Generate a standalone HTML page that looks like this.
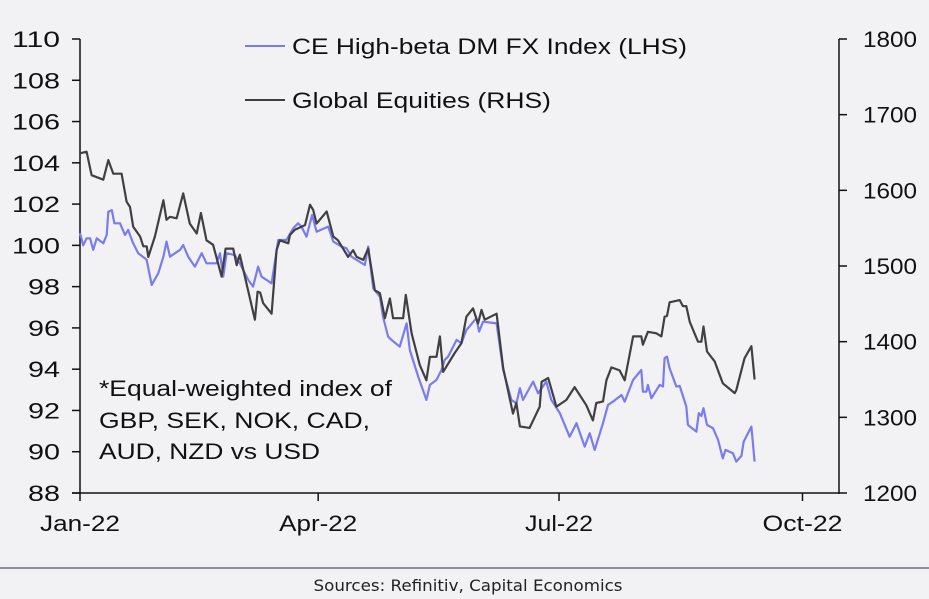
<!DOCTYPE html>
<html><head><meta charset="utf-8"><style>
html,body{margin:0;padding:0;background:#f2f2f5;}
svg{display:block;font-family:"Liberation Sans",Arial,sans-serif;}
</style></head><body>
<svg id="chart" width="929" height="599" viewBox="0 0 929 599" xmlns="http://www.w3.org/2000/svg">
<rect x="0" y="0" width="929" height="599" fill="#f2f2f5"/>
<g id="axes"></g>
<g id="series"></g>
<g>
<line x1="245" y1="46" x2="285" y2="46" stroke="#7b7bf0" stroke-width="2"/>
<text x="292" y="54" font-size="22" fill="#111" textLength="395" lengthAdjust="spacingAndGlyphs">CE High-beta DM FX Index (LHS)</text>
<line x1="245" y1="100" x2="285" y2="100" stroke="#404040" stroke-width="2"/>
<text x="292" y="108" font-size="22" fill="#111" textLength="259" lengthAdjust="spacingAndGlyphs">Global Equities (RHS)</text>
</g>
<g font-size="22" fill="#111">
<text x="99" y="396" textLength="293" lengthAdjust="spacingAndGlyphs">*Equal-weighted index of</text>
<text x="99" y="428" textLength="271" lengthAdjust="spacingAndGlyphs">GBP, SEK, NOK, CAD,</text>
<text x="99" y="459" textLength="221" lengthAdjust="spacingAndGlyphs">AUD, NZD vs USD</text>
</g>
<line x1="0" y1="568" x2="929" y2="568" stroke="#6e6e85" stroke-width="1.5"/>
<text x="468" y="591" font-size="16" fill="#222" text-anchor="middle" textLength="309" lengthAdjust="spacingAndGlyphs" font-family="'DejaVu Sans','Liberation Sans',sans-serif">Sources: Refinitiv, Capital Economics</text>
</svg>
<script>
const leftTicks=[88,90,92,94,96,98,100,102,104,106,108,110];
const rightTicks=[1200,1300,1400,1500,1600,1700,1800];
const xTickDays=[0,90,181,273];
const xTickLabels=["Jan-22","Apr-22","Jul-22","Oct-22"];
const fxDays=[0,1.2,2.5,3.8,5,6.3,8.8,10.1,10.7,12,13,15.1,17,18.2,18.9,20.1,22,24.5,25.2,27.1,29.6,31.5,32.7,34,35.9,37.8,39,40.9,43.4,46,47.8,51.6,52.9,54.1,55.4,58.5,60.4,63.6,65.4,67.3,68.6,72.4,74.9,78,80.6,82.4,83.7,85.6,87.7,89.4,93.8,95.7,98.8,100.7,102.6,107.6,108.9,110.8,113.3,114.5,116.4,117.7,120.8,123.4,124.6,127.8,130.9,132.2,134.7,136.6,137.8,139.1,142.3,144.1,146,149.8,150.8,152.3,157.4,159.9,163,164.9,166.2,167.4,171.2,173.1,176.2,178.1,181.3,185,187.6,190.7,192.6,194.5,197.6,199.5,201.4,204.6,205.8,209,212.1,212.7,214,214.6,215.9,219,220.3,220.9,221.8,222.8,225.3,226.6,229.1,229.7,232.9,233.8,234.8,235.6,236.9,239.2,241.1,242.9,243.9,246.7,248,249.9,250.8,253.7,254.9];
const fxValues=[100.6,100.0,100.34,100.34,99.78,100.34,100.1,100.5,101.63,101.71,101.07,101.07,100.5,100.75,100.5,100.1,99.62,99.38,99.29,98.08,98.65,99.45,100.18,99.45,99.62,99.78,100.02,99.45,98.97,99.62,99.13,99.13,99.62,98.48,99.62,99.53,99.13,98.32,98.0,98.97,98.48,98.16,100.26,100.26,100.83,101.07,100.91,100.42,101.47,100.66,100.91,100.18,99.94,99.86,99.45,99.05,99.94,97.92,97.51,96.55,95.58,95.42,95.09,96.22,94.93,93.64,92.51,93.24,93.48,93.96,94.45,94.61,95.42,95.26,95.9,96.47,95.82,96.3,96.22,93.96,92.51,92.35,93.08,92.51,93.4,92.83,93.4,92.51,91.87,90.73,91.38,90.25,90.9,90.09,91.38,92.27,92.43,92.75,92.43,93.48,93.96,92.91,92.91,93.24,92.59,93.24,93.16,94.53,94.61,94.05,93.16,93.19,92.19,91.3,90.97,91.87,91.73,92.11,91.3,91.14,90.57,89.68,90.09,89.93,89.52,89.8,90.49,91.22,89.52];
const eqDays=[0,2.5,4.4,8.8,10.7,12.6,15.7,17.6,18.9,20.1,22.7,23.9,25.2,25.8,28.3,31.5,32.7,34,36.5,39,41.5,44.1,45.7,47.8,50.3,53.5,55,57.9,59.2,60.4,66.1,67.1,68.1,69.2,72.4,74.3,75.5,78.7,79.3,81.2,85,86.9,88.1,89.4,93.2,95.7,97.5,101.3,103.2,104.5,107,108.9,111.4,113.3,115.2,117.1,118.3,122.1,123.1,125.3,128.4,130.9,132.2,134.7,136,137.2,141.6,144.1,146,148.5,150.4,151.7,152.9,157.4,159.9,163.6,164.9,166.2,169.9,173.7,174.4,176.9,180,183.8,186.9,191.3,193.8,195.1,197.6,198.9,200.8,203.9,205.8,209,212.1,212.7,214.6,217.8,219.7,220.9,221.8,222.8,226.6,227.8,229.1,230.4,233.5,234.8,235.6,236.9,239.8,242.9,247.4,248,251.1,253.7,254.9];
const eqValues=[1649,1651,1620,1614,1640,1622,1622,1585,1578,1552,1539,1526,1526,1512,1539,1587,1561,1565,1563,1596,1556,1543,1570,1534,1528,1486,1523,1523,1501,1515,1429,1466,1465,1451,1437,1521,1534,1530,1541,1548,1554,1581,1574,1556,1572,1539,1534,1512,1521,1512,1508,1523,1468,1464,1431,1457,1431,1431,1462,1411,1369,1349,1380,1380,1407,1360,1385,1398,1433,1444,1424,1442,1429,1437,1365,1305,1319,1288,1286,1314,1347,1352,1314,1323,1340,1316,1296,1319,1321,1349,1366,1362,1349,1407,1407,1396,1413,1411,1407,1433,1434,1452,1455,1447,1447,1426,1400,1400,1420,1387,1374,1345,1332,1336,1378,1394,1350];

const NS="http://www.w3.org/2000/svg";
const X0=80,X1=839,Y0=39,Y1=493;
const xScale=d=>X0+d*(802.5-X0)/273;
const yL=v=>Y1-(v-88)*(Y1-Y0)/22;
const yR=v=>Y1-(v-1200)*(Y1-Y0)/600;
function mk(tag,attrs,parent){const e=document.createElementNS(NS,tag);for(const k in attrs)e.setAttribute(k,attrs[k]);parent.appendChild(e);return e;}
const axes=document.getElementById('axes');
const series=document.getElementById('series');
let e=mk('line',{x1:X0,y1:Y0,x2:X0,y2:Y1+1,stroke:'#111','stroke-width':1.5},axes);


e=mk('line',{x1:X1,y1:Y0,x2:X1,y2:Y1+1,stroke:'#111','stroke-width':1.5},axes);


e=mk('line',{x1:X0-8,y1:Y1,x2:X1,y2:Y1,stroke:'#111','stroke-width':1.5},axes);


leftTicks.forEach(v=>{const y=yL(v);
 const t=mk('line',{x1:X0-8,y1:y,x2:X0,y2:y,stroke:'#111','stroke-width':1.5},axes);
 
 
 const s=String(v);
 const l=mk('text',{x:60-s.length*16,y:y+8,'font-size':22,fill:'#111',textLength:s.length*16,lengthAdjust:'spacingAndGlyphs'},axes);l.textContent=s;
 
 });
rightTicks.forEach(v=>{const y=yR(v);
 const t=mk('line',{x1:X1,y1:y,x2:X1+8,y2:y,stroke:'#111','stroke-width':1.5},axes);
 
 
 const l=mk('text',{x:863,y:y+8,'font-size':22,fill:'#111',textLength:54,lengthAdjust:'spacingAndGlyphs'},axes);l.textContent=v;
 
 });
const xLabW={"Jan-22":80,"Apr-22":78,"Jul-22":68,"Oct-22":80};
xTickDays.forEach((d,i)=>{const x=xScale(d);
 const t=mk('line',{x1:x,y1:Y1,x2:x,y2:Y1+8,stroke:'#111','stroke-width':1.5},axes);
 
 
 const w=xLabW[xTickLabels[i]]||78;
 const l=mk('text',{x:x-w/2,y:531,'font-size':22,fill:'#111',textLength:w,lengthAdjust:'spacingAndGlyphs'},axes);l.textContent=xTickLabels[i];
 
 });
const eqPts=eqDays.map((d,i)=>xScale(d).toFixed(1)+','+yR(eqValues[i]).toFixed(1)).join(' ');
const eq=mk('polyline',{points:eqPts,fill:'none',stroke:'#404040','stroke-width':2.2,'stroke-linejoin':'round'},series);


const fxPts=fxDays.map((d,i)=>xScale(d).toFixed(1)+','+yL(fxValues[i]).toFixed(1)).join(' ');
const fx=mk('polyline',{points:fxPts,fill:'none',stroke:'#7b7bf0','stroke-width':2.2,'stroke-linejoin':'round'},series);


series.insertBefore(fx,eq);
</script>
</body></html>
